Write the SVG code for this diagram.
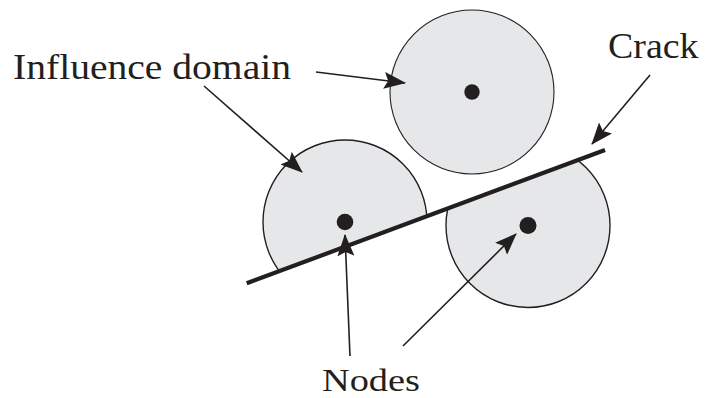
<svg xmlns="http://www.w3.org/2000/svg" width="705" height="398" viewBox="0 0 705 398">
<style>
.dom{fill:#e6e7e8;stroke:#231f20;stroke-width:1.4}
.dot{fill:#231f20}
.arr{stroke:#231f20;stroke-width:1.6;fill:none;marker-end:url(#ah)}
.lbl{font-family:"Liberation Serif","DejaVu Serif",serif;font-size:36px;fill:#231f20}
</style>
<defs>
<marker id="ah" markerUnits="userSpaceOnUse" viewBox="0 0 22 17" refX="21" refY="8.5" markerWidth="22" markerHeight="17" orient="auto">
<path d="M0,0 L22,8.5 L0,17 L4,8.5 Z" fill="#231f20"/>
</marker>
<clipPath id="above"><polygon points="200,300.7 700,114.7 700,0 200,0"/></clipPath>
<clipPath id="below"><polygon points="200,300.7 700,114.7 700,398 200,398"/></clipPath>
</defs>
<g id="domain-top">
<circle class="dom" cx="472" cy="92" r="82" style="stroke-width:1.1"/>
<circle class="dot" cx="472" cy="92" r="7.7"/>
</g>
<g id="domain-left">
<circle class="dom" cx="345" cy="222" r="82" clip-path="url(#above)"/>
<circle class="dot" cx="345" cy="222" r="8.3"/>
</g>
<g id="domain-right">
<circle class="dom" cx="528" cy="225.5" r="82" clip-path="url(#below)"/>
<circle class="dot" cx="528" cy="225.5" r="8.5"/>
</g>
<g id="crack">
<line x1="246.7" y1="283.3" x2="605" y2="150" stroke="#231f20" stroke-width="4.2"/>
</g>
<g id="connectors">
<line class="arr" x1="316" y1="72" x2="405" y2="83"/>
<line class="arr" x1="204" y1="86" x2="302" y2="172"/>
<line class="arr" x1="350" y1="356" x2="345" y2="235"/>
<line class="arr" x1="403" y1="346" x2="516" y2="234"/>
<line class="arr" x1="650" y1="75" x2="592" y2="144"/>
</g>
<g id="labels">
<text class="lbl" x="13" y="79.3" textLength="278" lengthAdjust="spacingAndGlyphs">Influence domain</text>
<text class="lbl" x="608" y="58.3" textLength="90.5" lengthAdjust="spacingAndGlyphs">Crack</text>
<text class="lbl" x="322" y="391" textLength="98" lengthAdjust="spacingAndGlyphs" style="font-size:32px">Nodes</text>
</g>
</svg>
